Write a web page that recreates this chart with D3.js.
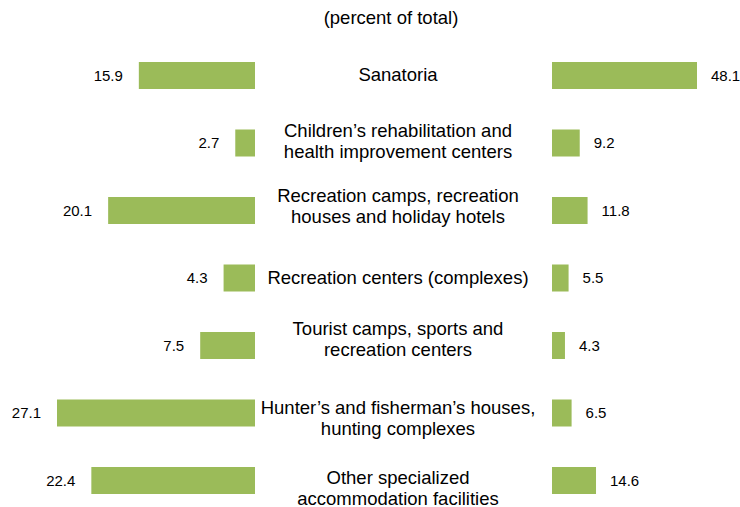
<!DOCTYPE html>
<html>
<head>
<meta charset="utf-8">
<script src="https://cdn.jsdelivr.net/npm/d3@7"></script>
<style>
  body { margin: 0; background: #fff; }
  text { font-family: "Liberation Sans", Arial, sans-serif; fill: #000; }
</style>
</head>
<body>
<div id="plot"></div>
<script>
// categories (each line of the label is split with |)
const categories = [
    "Sanatoria",
    "Children’s rehabilitation and|health improvement centers",
    "Recreation camps, recreation|houses and holiday hotels",
    "Recreation centers (complexes)",
    "Tourist camps, sports and|recreation centers",
    "Hunter’s and fisherman’s houses,|hunting complexes",
    "Other specialized|accommodation facilities"
]
const leftValues = [15.9, 2.7, 20.1, 4.3, 7.5, 27.1, 22.4]
const rightValues = [48.1, 9.2, 11.8, 5.5, 4.3, 6.5, 14.6]
const title = "(percent of total)"

const svgWidth = 740, svgHeight = 507
const barColor = "#9bbb59"

// the middle text boxes are not exactly centred on the bars in the original
const labelNudge = [-1, -2, -4.5, 0, -6, 5.5, 7.5]

const svg = d3.select('#plot')
    .append('svg')
    .attr("width", svgWidth)
    .attr("height", svgHeight)

const rows = categories.map(function(c, i) {
    return { cat: c, left: leftValues[i], right: rightValues[i], nudge: labelNudge[i] }
})

// vertical bands for the rows
const y = d3.scaleBand()
    .domain(categories)
    .range([62, 494])
    .paddingInner(0.6)
    .paddingOuter(0)

// left side grows to the left from x=255
const xLeft = d3.scaleLinear()
    .domain([0, 27.1])
    .range([255, 57])

// right side grows to the right from x=552
const xRight = d3.scaleLinear()
    .domain([0, 48.1])
    .range([552, 697])

svg.append("text")
    .attr("x", 391)
    .attr("y", 24)
    .attr("text-anchor", "middle")
    .style("font-size", "18.5px")
    .text(title)

// left bars
svg.selectAll("rect.left")
    .data(rows)
    .enter()
    .append("rect")
    .attr("class", "left")
    .attr("x", function(d) { return xLeft(d.left) })
    .attr("y", function(d) { return y(d.cat) })
    .attr("width", function(d) { return xLeft(0) - xLeft(d.left) })
    .attr("height", y.bandwidth())
    .style("fill", barColor)

// right bars
svg.selectAll("rect.right")
    .data(rows)
    .enter()
    .append("rect")
    .attr("class", "right")
    .attr("x", xRight(0))
    .attr("y", function(d) { return y(d.cat) })
    .attr("width", function(d) { return xRight(d.right) - xRight(0) })
    .attr("height", y.bandwidth())
    .style("fill", barColor)

// value labels
svg.selectAll("text.lval")
    .data(rows)
    .enter()
    .append("text")
    .attr("class", "lval")
    .attr("x", function(d) { return xLeft(d.left) - 16 })
    .attr("y", function(d) { return y(d.cat) + y.bandwidth() / 2 })
    .attr("dy", "0.35em")
    .attr("text-anchor", "end")
    .style("font-size", "15px")
    .text(function(d) { return d.left.toFixed(1) })

svg.selectAll("text.rval")
    .data(rows)
    .enter()
    .append("text")
    .attr("class", "rval")
    .attr("x", function(d) { return xRight(d.right) + 14 })
    .attr("y", function(d) { return y(d.cat) + y.bandwidth() / 2 })
    .attr("dy", "0.35em")
    .style("font-size", "15px")
    .text(function(d) { return d.right.toFixed(1) })

// category labels in the middle
const lineH = 21
svg.selectAll("text.cat")
    .data(rows)
    .enter()
    .append("text")
    .attr("class", "cat")
    .attr("x", 398)
    .attr("y", function(d) { return y(d.cat) + y.bandwidth() / 2 + d.nudge })
    .attr("text-anchor", "middle")
    .style("font-size", "18.5px")
    .each(function(d) {
        const lines = d.cat.split("|")
        const start = -(lines.length - 1) * lineH / 2
        d3.select(this).selectAll("tspan")
            .data(lines)
            .enter()
            .append("tspan")
            .attr("x", 398)
            .attr("dy", function(l, i) { return i === 0 ? (start + 6) : lineH })
            .text(function(l) { return l })
    })
</script>
</body>
</html>
